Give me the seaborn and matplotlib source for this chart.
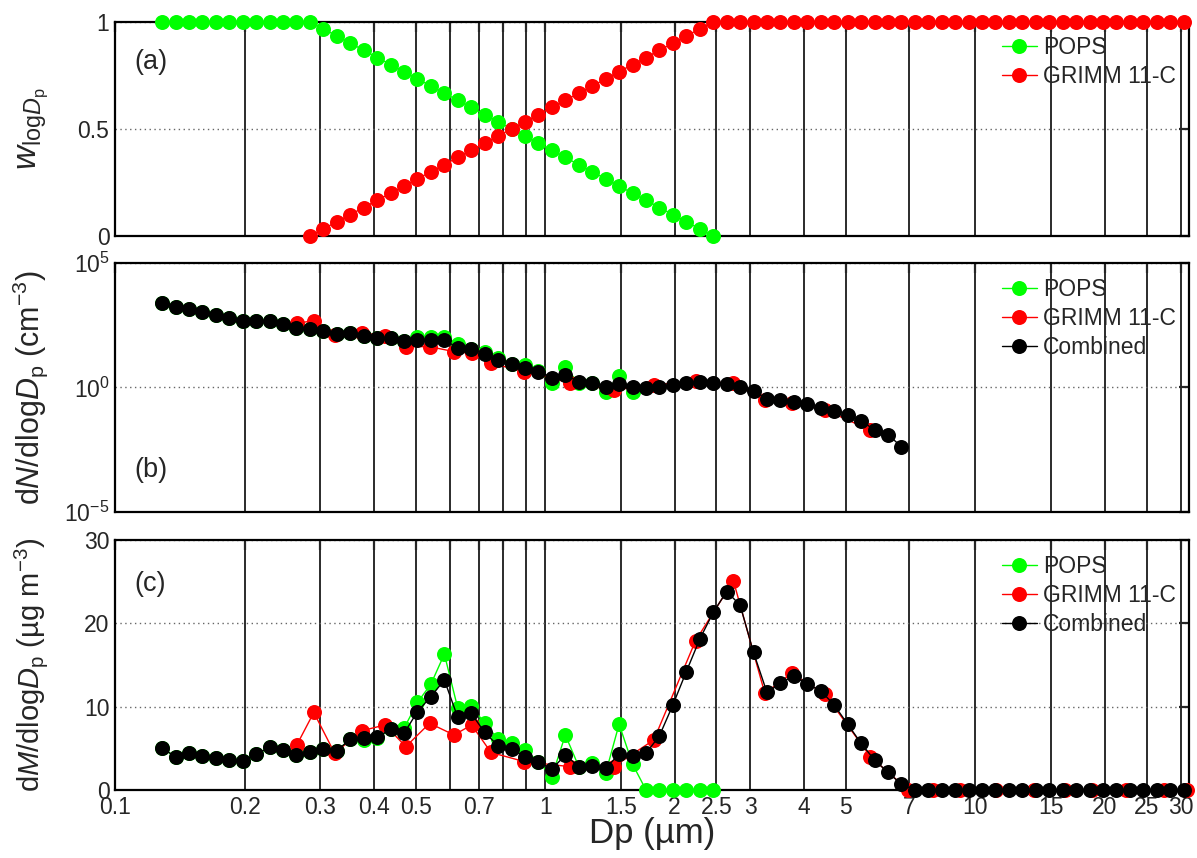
"""Weighting and merged size distributions, POPS + GRIMM 11-C (three stacked panels)."""

import matplotlib
matplotlib.use("Agg")
import matplotlib.pyplot as plt
import numpy as np
import seaborn as sns
from matplotlib.ticker import FixedLocator, NullLocator


# ---- data ---------------------------------------------------------------

# common (combined / POPS) size grid, um
dp_grid = [
    0.12863, 0.13823, 0.14854, 0.15962, 0.17153, 0.18433, 0.19808, 0.21286,
    0.22874, 0.24580, 0.26414, 0.28385, 0.30503, 0.32778, 0.35224, 0.37852,
    0.40676, 0.43711, 0.46972, 0.50476, 0.54242, 0.58289, 0.62638, 0.67311,
    0.72333, 0.77730, 0.83529, 0.89761, 0.96457, 1.03654, 1.11387, 1.19697,
    1.28627, 1.38224, 1.48536, 1.59618, 1.71527, 1.84324, 1.98076, 2.12853,
    2.28734, 2.45799, 2.64137, 2.83843, 3.05020, 3.27776, 3.52230, 3.78509,
    4.06748, 4.37094, 4.69704, 5.04747, 5.42404, 5.82871, 6.26357, 6.73087,
    7.23303, 7.77266, 8.35255, 8.97570, 9.64534, 10.3650, 11.139, 11.970,
    12.863, 13.822, 14.854, 15.962, 17.153, 18.433, 19.808, 21.286,
    22.874, 24.580, 26.414, 28.385, 30.503,
]

# GRIMM 11-C channel midpoints, um
dp_grimm = [
    0.2646, 0.2898, 0.3240, 0.3742, 0.4243, 0.4743, 0.5385, 0.6140,
    0.6745, 0.7483, 0.8944, 1.1402, 1.4422, 1.7889, 2.2361, 2.7386,
    3.2404, 3.7417, 4.4721, 5.7009, 6.9821, 7.9844, 9.2195, 11.180,
    13.693, 16.202, 18.708, 22.361, 27.386, 30.984,
]

# (a) weights; POPS on dp_grid[0:42], GRIMM on dp_grid[11:77]
w_pops = [
    1.0, 1.0, 1.0, 1.0, 1.0, 1.0, 1.0, 1.0, 1.0, 1.0, 1.0, 1.0,
    0.967, 0.933, 0.900, 0.867, 0.833, 0.800, 0.767, 0.733, 0.700, 0.667,
    0.633, 0.600, 0.567, 0.533, 0.500, 0.467, 0.433, 0.400, 0.367, 0.333,
    0.300, 0.267, 0.233, 0.200, 0.167, 0.133, 0.100, 0.067, 0.033, 0.0,
]
w_grimm = [
    0.0, 0.033, 0.067, 0.100, 0.133, 0.167, 0.200, 0.233, 0.267, 0.300,
    0.333, 0.367, 0.400, 0.433, 0.467, 0.500, 0.533, 0.567, 0.600, 0.633,
    0.667, 0.700, 0.733, 0.767, 0.800, 0.833, 0.867, 0.900, 0.933, 0.967,
    1.0, 1.0, 1.0, 1.0, 1.0, 1.0, 1.0, 1.0, 1.0, 1.0, 1.0, 1.0, 1.0, 1.0,
    1.0, 1.0, 1.0, 1.0, 1.0, 1.0, 1.0, 1.0, 1.0, 1.0, 1.0, 1.0, 1.0, 1.0,
    1.0, 1.0, 1.0, 1.0, 1.0, 1.0, 1.0, 1.0,
]

# (b) log10 of dN/dlogDp (cm-3); zero bins are left out
dn_pops_exp = [
    3.41, 3.22, 3.14, 3.03, 2.91, 2.78, 2.68, 2.67, 2.68, 2.55, 2.38, 2.34,
    2.28, 2.15, 2.18, 2.07, 1.99, 2.00, 1.88, 2.02, 2.02, 2.02,
    1.75, 1.55, 1.44, 1.17, 0.96, 0.90, 0.66, 0.17, 0.81, 0.17,
    0.17, -0.17, 0.46, -0.17,
]
dn_grimm_exp = [
    2.58, 2.68, 2.11, 2.20, 2.07, 1.64, 1.64, 1.44, 1.37, 0.97,
    0.64, 0.19, -0.10, 0.10, 0.26, 0.17, -0.50, -0.61, -0.90, -1.71,
]
dn_comb_exp = [
    3.41, 3.22, 3.14, 3.03, 2.91, 2.78, 2.68, 2.67, 2.68, 2.55, 2.38, 2.34,
    2.28, 2.15, 2.18, 2.07, 1.99, 1.99, 1.85, 1.91, 1.91, 1.91,
    1.59, 1.53, 1.35, 1.10, 0.94, 0.77, 0.64, 0.40, 0.50, 0.23,
    0.17, 0.03, 0.14, 0.01, -0.01, 0.01, 0.10, 0.17, 0.22, 0.18,
    0.13, 0.03, -0.15, -0.45, -0.50, -0.58, -0.66, -0.82, -0.93, -1.09,
    -1.33, -1.71, -1.89, -2.38,
]

# (c) dM/dlogDp (ug m-3)
dm_pops = [
    5.0, 4.0, 4.4, 4.1, 3.8, 3.6, 3.5, 4.3, 5.1, 4.8, 4.2, 4.5,
    4.9, 4.7, 6.1, 6.0, 6.2, 7.3, 7.4, 10.5, 12.7, 16.3,
    9.8, 10.1, 8.0, 6.1, 5.6, 4.8, 3.4, 1.6, 6.6, 2.8,
    3.2, 2.0, 7.9, 3.1, 0.0, 0.0, 0.0, 0.0, 0.0, 0.0,
]
dm_grimm = [
    5.4, 9.3, 4.4, 7.1, 7.8, 5.2, 8.0, 6.6, 7.8, 4.5,
    3.4, 2.8, 2.8, 6.0, 17.9, 25.1, 11.6, 14.0, 11.5, 4.0,
    0.0, 0.0, 0.0, 0.0, 0.0, 0.0, 0.0, 0.0, 0.0, 0.0,
]
dm_comb = [
    5.0, 4.0, 4.4, 4.1, 3.8, 3.6, 3.5, 4.3, 5.1, 4.8, 4.2, 4.5,
    4.9, 4.7, 6.1, 6.2, 6.3, 7.3, 6.8, 9.4, 11.2, 13.2,
    8.7, 9.2, 6.9, 5.3, 4.9, 4.0, 3.4, 2.5, 4.2, 2.8,
    2.9, 2.6, 4.3, 4.1, 4.4, 6.5, 10.2, 14.2, 18.1, 21.3,
    23.8, 22.2, 16.5, 11.7, 12.8, 13.7, 12.7, 11.9, 10.2, 7.9,
    5.6, 3.6, 2.1, 0.7,
    0.0, 0.0, 0.0, 0.0, 0.0, 0.0, 0.0, 0.0, 0.0, 0.0, 0.0,
    0.0, 0.0, 0.0, 0.0, 0.0, 0.0, 0.0, 0.0, 0.0, 0.0,
]

x_ticks = [0.1, 0.2, 0.3, 0.4, 0.5, 0.6, 0.7, 0.8, 0.9, 1, 1.5, 2, 2.5, 3,
           4, 5, 7, 10, 15, 20, 25, 30]
x_tick_labels = ['0.1', '0.2', '0.3', '0.4', '0.5', '', '0.7', '', '', '1',
                 '1.5', '2', '2.5', '3', '4', '5', '7', '10', '15', '20',
                 '25', '30']

POPS_COLOR = '#00ff00'
GRIMM_COLOR = '#ff0000'
COMB_COLOR = '#000000'

# ---- style ----------------------------------------------------------------
sns.set_style("white")
plt.rcParams['font.family'] = ['Liberation Sans', 'DejaVu Sans']
plt.rcParams['mathtext.fontset'] = 'custom'
plt.rcParams['mathtext.rm'] = 'Liberation Sans'
plt.rcParams['mathtext.it'] = 'Liberation Sans:italic'
plt.rcParams['mathtext.bf'] = 'Liberation Sans:bold'
plt.rcParams['axes.linewidth'] = 1.6
plt.rcParams['axes.edgecolor'] = 'black'

TICK_FS = 16.5
LABEL_FS = 21
YLABEL_X = -0.061


def draw_series(ax, x, y, color, label, z):
    sns.lineplot(x=x, y=y, ax=ax, color=color, label=label, marker='o',
                 markersize=10.8, markeredgewidth=0, linewidth=1.0,
                 estimator=None, sort=False, clip_on=False, zorder=z)


def style_axis(ax, show_xlabels):
    ax.set_xscale('log')
    ax.set_xlim(0.1, 31.3)
    ax.xaxis.set_major_locator(FixedLocator(x_ticks))
    ax.xaxis.set_minor_locator(NullLocator())
    if show_xlabels:
        ax.set_xticklabels(x_tick_labels)
    else:
        ax.set_xticklabels([])
    ax.set_axisbelow(True)
    ax.xaxis.grid(True, color='#1a1a1a', linewidth=1.3, linestyle='-')
    ax.yaxis.grid(True, color='#666666', linewidth=1.0, linestyle=(0, (1, 2.5)))
    ax.tick_params(axis='both', which='both', direction='in', top=True,
                   right=True, length=7, width=1.6, labelsize=TICK_FS, pad=4)
    for side in ax.spines.values():
        side.set_visible(True)
        side.set_linewidth(1.6)


def add_legend(ax, y_top):
    ax.legend(loc='upper left', bbox_to_anchor=(0.826, y_top), frameon=False,
              fontsize=TICK_FS, borderpad=0, borderaxespad=0,
              handlelength=1.55, handletextpad=0.25, labelspacing=0.26)


fig = plt.figure(figsize=(11.97, 8.58), dpi=100)
left, width = 0.0961, 0.8968
ax_a = fig.add_axes([left, 0.7249, width, 0.2498])
ax_b = fig.add_axes([left, 0.4033, width, 0.2902])
ax_c = fig.add_axes([left, 0.0793, width, 0.2914])

# ---- (a) weighting functions ----------------------------------------------
draw_series(ax_a, dp_grid[:len(w_pops)], w_pops, POPS_COLOR, 'POPS', 3)
draw_series(ax_a, dp_grid[11:11 + len(w_grimm)], w_grimm, GRIMM_COLOR,
            'GRIMM 11-C', 4)
style_axis(ax_a, False)
ax_a.set_ylim(0, 1)
ax_a.set_yticks([0, 0.5, 1])
ax_a.set_yticklabels(['0', '0.5', '1'])
ax_a.set_ylabel(r'$w_{\mathrm{log}D_\mathrm{p}}$', fontsize=LABEL_FS + 3)
ax_a.yaxis.set_label_coords(YLABEL_X, 0.5)
add_legend(ax_a, 0.935)
ax_a.text(0.018, 0.81, '(a)', transform=ax_a.transAxes, fontsize=19.5,
          ha='left', va='center')

# ---- (b) number distributions ---------------------------------------------
dn_pops = 10.0 ** np.array(dn_pops_exp)
dn_grimm = 10.0 ** np.array(dn_grimm_exp)
dn_comb = 10.0 ** np.array(dn_comb_exp)
ax_b.set_yscale('log')
draw_series(ax_b, dp_grid[:len(dn_pops)], dn_pops, POPS_COLOR, 'POPS', 3)
draw_series(ax_b, dp_grimm[:len(dn_grimm)], dn_grimm, GRIMM_COLOR,
            'GRIMM 11-C', 4)
draw_series(ax_b, dp_grid[:len(dn_comb)], dn_comb, COMB_COLOR, 'Combined', 5)
style_axis(ax_b, False)
ax_b.set_ylim(1e-5, 1e5)
ax_b.yaxis.set_major_locator(FixedLocator([1e-5, 1, 1e5]))
ax_b.yaxis.set_minor_locator(NullLocator())
ax_b.set_yticklabels([r'$10^{-5}$', r'$10^{0}$', r'$10^{5}$'])
ax_b.set_ylabel(r'd$N$/dlog$D_\mathrm{p}$ (cm$^{-3}$)', fontsize=LABEL_FS + 1)
ax_b.yaxis.set_label_coords(YLABEL_X, 0.5)
add_legend(ax_b, 0.938)
ax_b.text(0.018, 0.169, '(b)', transform=ax_b.transAxes, fontsize=19.5,
          ha='left', va='center')

# ---- (c) mass distributions -----------------------------------------------
draw_series(ax_c, dp_grid[:len(dm_pops)], dm_pops, POPS_COLOR, 'POPS', 3)
draw_series(ax_c, dp_grimm, dm_grimm, GRIMM_COLOR, 'GRIMM 11-C', 4)
draw_series(ax_c, dp_grid[:len(dm_comb)], dm_comb, COMB_COLOR, 'Combined', 5)
style_axis(ax_c, True)
ax_c.set_ylim(0, 30)
ax_c.set_yticks([0, 10, 20, 30])
ax_c.set_yticklabels(['0', '10', '20', '30'])
ax_c.set_ylabel('d$M$/dlog$D_\\mathrm{p}$ (µg m$^{-3}$)', fontsize=LABEL_FS)
ax_c.yaxis.set_label_coords(YLABEL_X, 0.5)
ax_c.set_xlabel('Dp (µm)', fontsize=25)
ax_c.xaxis.set_label_coords(0.5, -0.108)
ax_c.xaxis.label.set_va('top')
add_legend(ax_c, 0.938)
ax_c.text(0.018, 0.824, '(c)', transform=ax_c.transAxes, fontsize=19.5,
          ha='left', va='center')

fig.savefig('out.png', dpi=100)
